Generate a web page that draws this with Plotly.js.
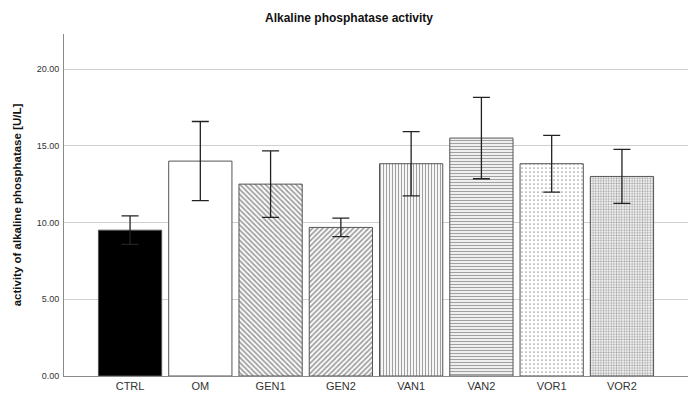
<!DOCTYPE html>
<html>
<head>
<meta charset="utf-8">
<script src="https://cdn.plot.ly/plotly-3.0.1.min.js"></script>
<style>html,body{margin:0;padding:0;background:#fff;}#chart{width:698px;height:401px;}</style>
</head>
<body>
<div id="chart"></div>
<script>
const categories = ["CTRL", "OM", "GEN1", "GEN2", "VAN1", "VAN2", "VOR1", "VOR2"];
const means = [9.50, 14.00, 12.50, 9.68, 13.83, 15.50, 13.83, 13.00];
const errors = [0.93, 2.58, 2.17, 0.60, 2.09, 2.65, 1.85, 1.76];
const yTickVals = [0, 5, 10, 15, 20];
const yTickText = ["0.00", "5.00", "10.00", "15.00", "20.00"];

const fillColors = ["#000000", "#ffffff", "#ffffff", "#ffffff", "#ffffff", "#ffffff", "#ffffff", "#ffffff"];
const patternShapes = ["", "", "\\", "/", "|", "-", ".", "."];
const patternSizes = [4, 4, 3.6, 3.6, 3, 3, 4, 2.6];
const patternSolidity = [0.3, 0.3, 0.5, 0.5, 0.4, 0.45, 0.15, 0.45];
const patternColors = ["#555555", "#555555", "#555555", "#555555", "#555555", "#555555", "#999999", "#777777"];

const trace = {
  type: "bar",
  x: categories,
  y: means,
  width: 0.9,
  marker: {
    color: fillColors,
    line: {color: "#555555", width: 1},
    pattern: {
      shape: patternShapes,
      fgcolor: patternColors,
      bgcolor: "#ffffff",
      size: patternSizes,
      solidity: patternSolidity,
      fillmode: "overlay"
    }
  },
  error_y: {type: "data", array: errors, visible: true, color: "#222222", thickness: 1.3, width: 8.5},
  hoverinfo: "skip"
};

const layout = {
  width: 698, height: 401,
  margin: {l: 64, r: 10, t: 34, b: 25},
  paper_bgcolor: "#ffffff", plot_bgcolor: "#ffffff",
  showlegend: false,
  title: {text: "<b>Alkaline phosphatase activity</b>", x: 0.5, xanchor: "center", y: 0.955, yanchor: "middle",
          font: {family: "Liberation Sans, Arial, sans-serif", size: 12, color: "#111"}},
  xaxis: {
    type: "category",
    range: [-0.94, 7.94],
    showline: true, linecolor: "#8a8a8a", linewidth: 1,
    showgrid: false, ticks: "",
    tickfont: {family: "Liberation Sans, Arial, sans-serif", size: 11, color: "#333"},
    fixedrange: true
  },
  yaxis: {
    range: [0, 22.28],
    tickvals: yTickVals, ticktext: yTickText,
    showline: true, linecolor: "#8a8a8a", linewidth: 1,
    showgrid: true, gridcolor: "#cfcfcf", gridwidth: 1,
    zeroline: false, ticks: "",
    tickfont: {family: "Liberation Sans, Arial, sans-serif", size: 9, color: "#333"},
    ticklabelstandoff: 2,
    title: {text: "<b>activity of alkaline phosphatase [U/L]</b>", standoff: 12,
            font: {family: "Liberation Sans, Arial, sans-serif", size: 11.5, color: "#111"}},
    fixedrange: true
  }
};

Plotly.newPlot("chart", [trace], layout, {displayModeBar: false, staticPlot: true});
</script>
</body>
</html>
